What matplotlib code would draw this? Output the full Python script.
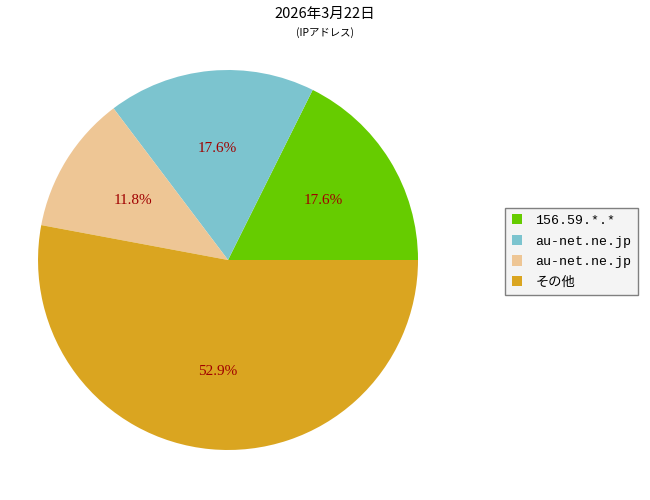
import matplotlib
matplotlib.use("Agg")
import matplotlib.pyplot as plt

# データ
labels = ["156.59.*.*", "au-net.ne.jp", "au-net.ne.jp", "その他"]
counts = [3, 3, 2, 9]
colors = ["#66cc00", "#7cc4cf", "#eec695", "#daa520"]
title = "2026年3月22日"
subtitle = "(IPアドレス)"

mono = ["Liberation Mono", "Noto Sans CJK JP"]
serif = ["Liberation Serif", "Noto Sans CJK JP"]

fig = plt.figure(figsize=(6.5, 5), dpi=100)
ax = fig.add_axes([0.0585, 0.10, 0.5846, 0.76])

wedges, texts, autotexts = ax.pie(
    counts, colors=colors, startangle=0, counterclock=True,
    autopct="%.1f%%", pctdistance=0.59,
    textprops=dict(color="#a00000", fontsize=11, family=serif),
)
ax.set_xlim(-1, 1)
ax.set_ylim(-1, 1)
ax.set_aspect("equal")

fig.text(0.5, 0.972, title, ha="center", va="center", fontsize=10.5,
         family=["Noto Sans CJK JP", "DejaVu Sans"])
fig.text(0.5, 0.934, subtitle, ha="center", va="center", fontsize=7.5,
         family=["Noto Sans CJK JP", "DejaVu Sans"])

leg = fig.legend(wedges, labels, loc="center left", bbox_to_anchor=(0.777, 0.497),
                 borderaxespad=0, prop=dict(family=mono, size=9.5), fancybox=False,
                 handlelength=0.8, handleheight=0.8, handletextpad=1.0,
                 labelspacing=0.6, borderpad=0.5)
leg.get_frame().set_facecolor("#f4f4f4")
leg.get_frame().set_edgecolor("#808080")
leg.get_frame().set_alpha(1)

plt.savefig("out.png", dpi=100)
plt.close()
